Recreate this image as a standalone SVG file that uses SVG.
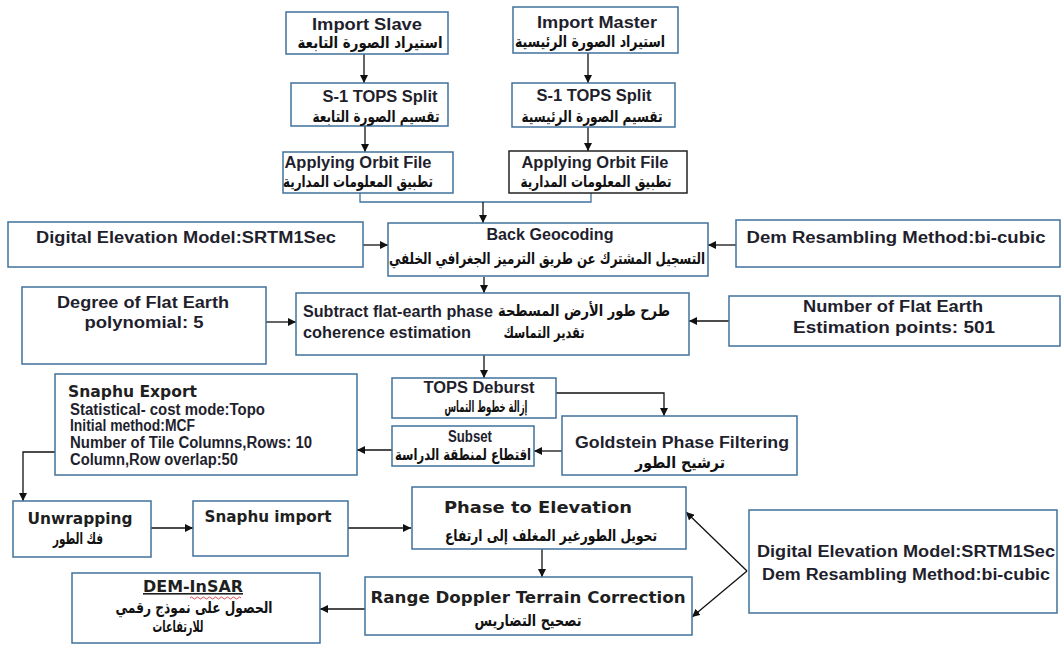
<svg xmlns="http://www.w3.org/2000/svg" width="1062" height="646" viewBox="0 0 1062 646">
<defs>
<style>
.box{fill:#fff;stroke:#41719c;stroke-width:1.5}
.boxk{fill:#fff;stroke:#222;stroke-width:1.5}
.t{font-family:"Liberation Sans",Arial,sans-serif;font-weight:bold;font-size:16px;fill:#1f1f2e}
.tv{font-family:"DejaVu Sans",sans-serif;font-weight:bold;font-size:16px;fill:#1f1f1f}
.ar{font-family:"DejaVu Sans",sans-serif;font-weight:bold;font-size:16px;fill:#111}
.c{text-anchor:middle}
.ln{fill:none;stroke:#111;stroke-width:1.3}
</style>
<marker id="ah" viewBox="0 0 10 10" refX="10" refY="5" markerWidth="8" markerHeight="8" markerUnits="userSpaceOnUse" orient="auto">
<path d="M0,0L10,5L0,10z" fill="#111"/>
</marker>
</defs>
<rect width="1062" height="646" fill="#fff"/>

<g id="connectors">
<line class="ln" x1="364" y1="54" x2="364" y2="83" marker-end="url(#ah)"/>
<line class="ln" x1="365" y1="126" x2="365" y2="152" marker-end="url(#ah)"/>
<line class="ln" x1="588" y1="53" x2="588" y2="83" marker-end="url(#ah)"/>
<line class="ln" x1="588" y1="127" x2="588" y2="151" marker-end="url(#ah)"/>
<polyline class="ln" points="360,193 360,202 591,202 591,193" style="stroke:#41719c"/>
<line class="ln" x1="483" y1="202" x2="483" y2="223" marker-end="url(#ah)"/>
<line class="ln" x1="363" y1="245" x2="388" y2="245" marker-end="url(#ah)"/>
<line class="ln" x1="736" y1="245" x2="708" y2="245" marker-end="url(#ah)"/>
<line class="ln" x1="484" y1="277" x2="484" y2="293" marker-end="url(#ah)"/>
<line class="ln" x1="266" y1="322" x2="296" y2="322" marker-end="url(#ah)"/>
<line class="ln" x1="729" y1="321" x2="689" y2="321" marker-end="url(#ah)"/>
<line class="ln" x1="484" y1="355" x2="484" y2="378" marker-end="url(#ah)"/>
<polyline class="ln" points="556,393 664,393 664,416" marker-end="url(#ah)"/>
<line class="ln" x1="562" y1="451" x2="534" y2="451" marker-end="url(#ah)"/>
<line class="ln" x1="392" y1="450" x2="357" y2="450" marker-end="url(#ah)"/>
<polyline class="ln" points="55,452 23,452 23,501" marker-end="url(#ah)"/>
<line class="ln" x1="151" y1="528" x2="193" y2="528" marker-end="url(#ah)"/>
<line class="ln" x1="348" y1="528" x2="411" y2="528" marker-end="url(#ah)"/>
<line class="ln" x1="542" y1="549" x2="542" y2="577" marker-end="url(#ah)"/>
<line class="ln" x1="365" y1="609" x2="320" y2="609" marker-end="url(#ah)"/>
<line class="ln" x1="747" y1="571" x2="686" y2="512" marker-end="url(#ah)"/>
<line class="ln" x1="747" y1="571" x2="692" y2="617" marker-end="url(#ah)"/>
</g>

<g id="import-slave">
<rect class="box" x="286" y="12" width="162" height="42"/>
<text class="t c" x="367" y="30" font-size="17" textLength="110" lengthAdjust="spacingAndGlyphs">Import Slave</text>
<text class="ar c" x="370" y="48" textLength="145" lengthAdjust="spacingAndGlyphs">استيراد الصورة التابعة</text>
</g>
<g id="import-master">
<rect class="box" x="513" y="7" width="165" height="46"/>
<text class="t c" x="597" y="28" font-size="17" textLength="120" lengthAdjust="spacingAndGlyphs">Import Master</text>
<text class="ar c" x="590" y="47" textLength="150" lengthAdjust="spacingAndGlyphs">استيراد الصورة الرئيسية</text>
</g>
<g id="split-slave">
<rect class="box" x="291" y="83" width="157" height="43"/>
<text class="t c" x="380" y="102" textLength="115" lengthAdjust="spacingAndGlyphs">S-1 TOPS Split</text>
<text class="ar c" x="376" y="122" textLength="127" lengthAdjust="spacingAndGlyphs">تقسيم الصورة التابعة</text>
</g>
<g id="split-master">
<rect class="box" x="512" y="83" width="163" height="44"/>
<text class="t c" x="594" y="101" textLength="115" lengthAdjust="spacingAndGlyphs">S-1 TOPS Split</text>
<text class="ar c" x="592" y="122" textLength="141" lengthAdjust="spacingAndGlyphs">تقسيم الصورة الرئيسية</text>
</g>
<g id="orbit-slave">
<rect class="box" x="283" y="152" width="170" height="41"/>
<text class="t c" x="358" y="168" textLength="147" lengthAdjust="spacingAndGlyphs">Applying Orbit File</text>
<text class="ar c" x="358" y="187" textLength="150" lengthAdjust="spacingAndGlyphs">تطبيق المعلومات المدارية</text>
</g>
<g id="orbit-master">
<rect class="boxk" x="509" y="151" width="178" height="42"/>
<text class="t c" x="595" y="168" textLength="147" lengthAdjust="spacingAndGlyphs">Applying Orbit File</text>
<text class="ar c" x="596" y="187" textLength="151" lengthAdjust="spacingAndGlyphs">تطبيق المعلومات المدارية</text>
</g>
<g id="back-geocoding">
<rect class="box" x="388" y="223" width="320" height="53"/>
<text class="t c" x="550" y="240" font-size="17" textLength="127" lengthAdjust="spacingAndGlyphs">Back Geocoding</text>
<text class="ar c" x="547" y="264" font-size="17" textLength="316" lengthAdjust="spacingAndGlyphs">التسجيل المشترك عن طريق الترميز الجغرافي الخلفي</text>
</g>
<g id="dem-left">
<rect class="box" x="8" y="222" width="355" height="45"/>
<text class="t c" x="186" y="243" font-size="17" textLength="300" lengthAdjust="spacingAndGlyphs">Digital Elevation Model:SRTM1Sec</text>
</g>
<g id="dem-resampling">
<rect class="box" x="736" y="220" width="324" height="47"/>
<text class="t c" x="896" y="243" font-size="17" textLength="299" lengthAdjust="spacingAndGlyphs">Dem Resambling Method:bi-cubic</text>
</g>
<g id="degree-flat-earth">
<rect class="box" x="22" y="287" width="244" height="77"/>
<text class="t c" x="143" y="308" font-size="17" textLength="172" lengthAdjust="spacingAndGlyphs">Degree of Flat Earth</text>
<text class="t c" x="144" y="328" font-size="17" textLength="119" lengthAdjust="spacingAndGlyphs">polynomial: 5</text>
</g>
<g id="subtract-flat-earth">
<rect class="box" x="296" y="293" width="393" height="62"/>
<text class="t" x="303" y="317" textLength="190" lengthAdjust="spacingAndGlyphs">Subtract flat-earth phase</text>
<text class="t" x="303" y="338" textLength="168" lengthAdjust="spacingAndGlyphs">coherence estimation</text>
<text class="ar c" x="584" y="316" textLength="172" lengthAdjust="spacingAndGlyphs">طرح طور الأرض المسطحة</text>
<text class="ar c" x="544" y="338" textLength="81" lengthAdjust="spacingAndGlyphs">تقدير التماسك</text>
</g>
<g id="number-flat-earth">
<rect class="box" x="729" y="296" width="331" height="50"/>
<text class="t c" x="893" y="312" font-size="17" textLength="180" lengthAdjust="spacingAndGlyphs">Number of Flat Earth</text>
<text class="t c" x="894" y="333" font-size="17" textLength="202" lengthAdjust="spacingAndGlyphs">Estimation points: 501</text>
</g>
<g id="tops-deburst">
<rect class="box" x="392" y="378" width="164" height="40"/>
<text class="t c" x="479" y="393" font-size="15" textLength="111" lengthAdjust="spacingAndGlyphs">TOPS Deburst</text>
<text class="ar c" x="486" y="412" font-size="15" textLength="83" lengthAdjust="spacingAndGlyphs">إزالة خطوط التماس</text>
</g>
<g id="goldstein">
<rect class="box" x="562" y="416" width="235" height="59"/>
<text class="t c" x="682" y="448" font-size="17" textLength="214" lengthAdjust="spacingAndGlyphs">Goldstein Phase Filtering</text>
<text class="ar c" x="680" y="468" textLength="90" lengthAdjust="spacingAndGlyphs">ترشيح الطور</text>
</g>
<g id="subset">
<rect class="box" x="392" y="426" width="142" height="40"/>
<text class="t c" x="470" y="442" font-size="15" textLength="44" lengthAdjust="spacingAndGlyphs">Subset</text>
<text class="ar c" x="463" y="460" font-size="15" textLength="136" lengthAdjust="spacingAndGlyphs">اقتطاع لمنطقة الدراسة</text>
</g>
<g id="snaphu-export">
<rect class="box" x="55" y="374" width="302" height="101"/>
<text class="tv" x="68" y="397" textLength="129" lengthAdjust="spacingAndGlyphs">Snaphu Export</text>
<text class="t" x="70" y="415" font-size="15" textLength="195" lengthAdjust="spacingAndGlyphs">Statistical- cost mode:Topo</text>
<text class="t" x="70" y="431" font-size="15" textLength="125" lengthAdjust="spacingAndGlyphs">Initial method:MCF</text>
<text class="t" x="70" y="448" font-size="15" textLength="242" lengthAdjust="spacingAndGlyphs">Number of Tile Columns,Rows: 10</text>
<text class="t" x="70" y="465" font-size="15" textLength="168" lengthAdjust="spacingAndGlyphs">Column,Row overlap:50</text>
</g>
<g id="unwrapping">
<rect class="box" x="13" y="501" width="138" height="56"/>
<text class="tv c" x="80" y="524" textLength="105" lengthAdjust="spacingAndGlyphs">Unwrapping</text>
<text class="ar c" x="78" y="544" font-size="14" textLength="50" lengthAdjust="spacingAndGlyphs">فك الطور</text>
</g>
<g id="snaphu-import">
<rect class="box" x="193" y="501" width="155" height="55"/>
<text class="tv c" x="268" y="522" textLength="127" lengthAdjust="spacingAndGlyphs">Snaphu import</text>
</g>
<g id="phase-to-elevation">
<rect class="box" x="412" y="487" width="274" height="62"/>
<text class="tv c" x="538" y="513" font-size="17" textLength="188" lengthAdjust="spacingAndGlyphs">Phase to Elevation</text>
<text class="ar c" x="551" y="541" textLength="212" lengthAdjust="spacingAndGlyphs">تحويل الطورغير المغلف إلى ارتفاع</text>
</g>
<g id="range-doppler">
<rect class="box" x="365" y="577" width="327" height="58"/>
<text class="tv c" x="528" y="603" textLength="315" lengthAdjust="spacingAndGlyphs">Range Doppler Terrain Correction</text>
<text class="ar c" x="528" y="626" textLength="107" lengthAdjust="spacingAndGlyphs">تصحيح التضاريس</text>
</g>
<g id="dem-insar">
<rect class="box" x="72" y="573" width="248" height="70"/>
<text class="tv c" x="193" y="592" textLength="100" lengthAdjust="spacingAndGlyphs" text-decoration="underline">DEM-InSAR</text>
<path d="M190,598 q1.5,-2 3,0 t3,0 t3,0 t3,0 t3,0 t3,0 t3,0 t3,0 t3,0 t3,0 t3,0 t3,0 t3,0 t3,0 t3,0 t3,0 t3,0" fill="none" stroke="#d22" stroke-width="0.8"/>
<text class="ar c" x="194" y="613" textLength="157" lengthAdjust="spacingAndGlyphs">الحصول على نموذج رقمي</text>
<text class="ar c" x="178" y="632" textLength="51" lengthAdjust="spacingAndGlyphs">للارتفاعات</text>
</g>
<g id="dem-right">
<rect class="box" x="749" y="510" width="308" height="103"/>
<text class="t c" x="906" y="557" font-size="17" textLength="298" lengthAdjust="spacingAndGlyphs">Digital Elevation Model:SRTM1Sec</text>
<text class="t c" x="906" y="580" font-size="17" textLength="288" lengthAdjust="spacingAndGlyphs">Dem Resambling Method:bi-cubic</text>
</g>
</svg>
